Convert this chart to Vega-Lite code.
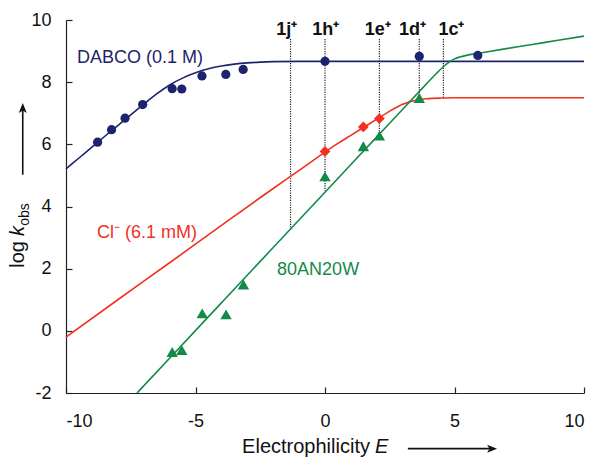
{
  "$schema": "https://vega.github.io/schema/vega-lite/v6.json",
  "width": 518,
  "height": 373,
  "padding": {"left": 66, "top": 20, "right": 13, "bottom": 65},
  "autosize": {"type": "none"},
  "background": "white",
  "config": {
    "view": {"stroke": null},
    "font": "Liberation Sans",
    "axis": {
      "labelFont": "Liberation Sans",
      "labelFontSize": 18,
      "labelColor": "#111111",
      "domainColor": "#222222",
      "domainWidth": 1.2,
      "tickColor": "#222222",
      "tickWidth": 1.2,
      "tickSize": -6,
      "grid": false,
      "title": null,
      "labelExpr": "toString(datum.value)"
    },
    "axisX": {"labelPadding": 25},
    "axisY": {"labelPadding": 21}
  },
  "datasets": {
    "curves": [
      {"s": "DABCO", "E": -10, "y": 5.21},
      {"s": "DABCO", "E": -9.5, "y": 5.56},
      {"s": "DABCO", "E": -9, "y": 5.91},
      {"s": "DABCO", "E": -8.5, "y": 6.26},
      {"s": "DABCO", "E": -8, "y": 6.6},
      {"s": "DABCO", "E": -7.5, "y": 6.95},
      {"s": "DABCO", "E": -7, "y": 7.29},
      {"s": "DABCO", "E": -6.5, "y": 7.62},
      {"s": "DABCO", "E": -6, "y": 7.91},
      {"s": "DABCO", "E": -5.5, "y": 8.13},
      {"s": "DABCO", "E": -5, "y": 8.3},
      {"s": "DABCO", "E": -4.5, "y": 8.43},
      {"s": "DABCO", "E": -4, "y": 8.52},
      {"s": "DABCO", "E": -3.5, "y": 8.58},
      {"s": "DABCO", "E": -3, "y": 8.62},
      {"s": "DABCO", "E": -2.5, "y": 8.645},
      {"s": "DABCO", "E": -2, "y": 8.66},
      {"s": "DABCO", "E": -1, "y": 8.67},
      {"s": "DABCO", "E": 0, "y": 8.67},
      {"s": "DABCO", "E": 10, "y": 8.67},
      {"s": "Cl", "E": -10, "y": -0.2},
      {"s": "Cl", "E": -8, "y": 1.0},
      {"s": "Cl", "E": -6, "y": 2.19},
      {"s": "Cl", "E": -4, "y": 3.39},
      {"s": "Cl", "E": -2, "y": 4.58},
      {"s": "Cl", "E": -1, "y": 5.16},
      {"s": "Cl", "E": 0, "y": 5.75},
      {"s": "Cl", "E": 0.5, "y": 6.03},
      {"s": "Cl", "E": 1, "y": 6.29},
      {"s": "Cl", "E": 1.5, "y": 6.55},
      {"s": "Cl", "E": 2, "y": 6.81},
      {"s": "Cl", "E": 2.5, "y": 7.07},
      {"s": "Cl", "E": 3, "y": 7.29},
      {"s": "Cl", "E": 3.5, "y": 7.42},
      {"s": "Cl", "E": 4, "y": 7.47},
      {"s": "Cl", "E": 4.5, "y": 7.49},
      {"s": "Cl", "E": 5, "y": 7.5},
      {"s": "Cl", "E": 10, "y": 7.5},
      {"s": "80AN20W", "E": -7.26, "y": -2.0},
      {"s": "80AN20W", "E": -6, "y": -0.88},
      {"s": "80AN20W", "E": -4, "y": 0.9},
      {"s": "80AN20W", "E": -2, "y": 2.68},
      {"s": "80AN20W", "E": 0, "y": 4.46},
      {"s": "80AN20W", "E": 2, "y": 6.24},
      {"s": "80AN20W", "E": 3, "y": 7.13},
      {"s": "80AN20W", "E": 3.64, "y": 7.7},
      {"s": "80AN20W", "E": 4, "y": 8.02},
      {"s": "80AN20W", "E": 4.3, "y": 8.28},
      {"s": "80AN20W", "E": 4.6, "y": 8.52},
      {"s": "80AN20W", "E": 4.83, "y": 8.67},
      {"s": "80AN20W", "E": 5, "y": 8.75},
      {"s": "80AN20W", "E": 5.2, "y": 8.81},
      {"s": "80AN20W", "E": 5.5, "y": 8.87},
      {"s": "80AN20W", "E": 6, "y": 8.94},
      {"s": "80AN20W", "E": 7, "y": 9.08},
      {"s": "80AN20W", "E": 8, "y": 9.21},
      {"s": "80AN20W", "E": 9, "y": 9.35},
      {"s": "80AN20W", "E": 10, "y": 9.48}
    ],
    "points": [
      {"s": "DABCO", "E": -8.78, "y": 6.07},
      {"s": "DABCO", "E": -8.24, "y": 6.47},
      {"s": "DABCO", "E": -7.72, "y": 6.84},
      {"s": "DABCO", "E": -7.04, "y": 7.28},
      {"s": "DABCO", "E": -5.9, "y": 7.79},
      {"s": "DABCO", "E": -5.53, "y": 7.78},
      {"s": "DABCO", "E": -4.75, "y": 8.2},
      {"s": "DABCO", "E": -3.83, "y": 8.25},
      {"s": "DABCO", "E": -3.16, "y": 8.41},
      {"s": "DABCO", "E": 0, "y": 8.67},
      {"s": "DABCO", "E": 3.64, "y": 8.83},
      {"s": "DABCO", "E": 5.9, "y": 8.86},
      {"s": "Cl", "E": 0, "y": 5.77},
      {"s": "Cl", "E": 1.48, "y": 6.56},
      {"s": "Cl", "E": 2.1, "y": 6.83},
      {"s": "80AN20W", "E": -5.9, "y": -0.68},
      {"s": "80AN20W", "E": -5.53, "y": -0.62},
      {"s": "80AN20W", "E": -4.74, "y": 0.56},
      {"s": "80AN20W", "E": -3.82, "y": 0.53},
      {"s": "80AN20W", "E": -3.15, "y": 1.49},
      {"s": "80AN20W", "E": 0, "y": 4.97},
      {"s": "80AN20W", "E": 1.48, "y": 5.94},
      {"s": "80AN20W", "E": 2.1, "y": 6.28},
      {"s": "80AN20W", "E": 3.64, "y": 7.49}
    ],
    "guides": [
      {"c": "1j", "E": -1.33, "top": 9.39, "bot": 3.25},
      {"c": "1h", "E": 0, "top": 9.39, "bot": 4.5},
      {"c": "1e", "E": 2.1, "top": 9.39, "bot": 6.32},
      {"c": "1d", "E": 3.64, "top": 9.39, "bot": 7.45},
      {"c": "1c", "E": 4.57, "top": 9.39, "bot": 7.47}
    ],
    "compounds": [
      {"t": "1j⁺", "E": -1.48, "y": 9.52},
      {"t": "1h⁺", "E": 0.03, "y": 9.52},
      {"t": "1e⁺", "E": 2.04, "y": 9.52},
      {"t": "1d⁺", "E": 3.38, "y": 9.52},
      {"t": "1c⁺", "E": 4.88, "y": 9.52}
    ],
    "serieslabels": [
      {"s": "DABCO", "t": "DABCO (0.1 M)", "E": -9.58, "y": 8.62},
      {"s": "Cl", "t": "Cl⁻ (6.1 mM)", "E": -8.8, "y": 2.99},
      {"s": "80AN20W", "t": "80AN20W", "E": -1.85, "y": 1.8}
    ],
    "arrows": [
      {"a": "x", "x1": 3.2, "x2": 6.45, "y1": -3.79, "y2": -3.79},
      {"a": "y", "x1": -11.67, "x2": -11.67, "y1": 5.02, "y2": 7.2}
    ]
  },
  "layer": [
    {
      "data": {"name": "guides"},
      "mark": {"type": "rule", "color": "#222222", "strokeWidth": 1.2, "strokeDash": [1.2, 1.2]},
      "encoding": {
        "x": {"field": "E", "type": "quantitative", "scale": {"domain": [-10, 10], "nice": false, "zero": false}, "axis": {"values": [-10, -5, 0, 5, 10]}},
        "y": {"field": "top", "type": "quantitative", "scale": {"domain": [-2, 10], "nice": false, "zero": false}, "axis": {"values": [-2, 0, 2, 4, 6, 8, 10]}},
        "y2": {"field": "bot"}
      }
    },
    {
      "data": {"name": "curves"},
      "mark": {"type": "line", "strokeWidth": 1.6, "interpolate": "monotone"},
      "encoding": {
        "x": {"field": "E", "type": "quantitative", "scale": {"domain": [-10, 10], "nice": false, "zero": false}},
        "y": {"field": "y", "type": "quantitative", "scale": {"domain": [-2, 10], "nice": false, "zero": false}},
        "color": {"field": "s", "type": "nominal", "scale": {"domain": ["DABCO", "Cl", "80AN20W"], "range": ["#1d246e", "#f2301f", "#138a48"]}, "legend": null}
      }
    },
    {
      "data": {"name": "points"},
      "transform": [{"filter": "datum.s === 'DABCO'"}],
      "mark": {"type": "point", "filled": true, "opacity": 1, "shape": "circle", "size": 85, "color": "#1d246e"},
      "encoding": {
        "x": {"field": "E", "type": "quantitative", "scale": {"domain": [-10, 10], "nice": false, "zero": false}},
        "y": {"field": "y", "type": "quantitative", "scale": {"domain": [-2, 10], "nice": false, "zero": false}}
      }
    },
    {
      "data": {"name": "points"},
      "transform": [{"filter": "datum.s === 'Cl'"}],
      "mark": {"type": "point", "filled": true, "opacity": 1, "shape": "diamond", "size": 115, "color": "#f2301f"},
      "encoding": {
        "x": {"field": "E", "type": "quantitative", "scale": {"domain": [-10, 10], "nice": false, "zero": false}},
        "y": {"field": "y", "type": "quantitative", "scale": {"domain": [-2, 10], "nice": false, "zero": false}}
      }
    },
    {
      "data": {"name": "points"},
      "transform": [{"filter": "datum.s === '80AN20W'"}],
      "mark": {"type": "point", "filled": true, "opacity": 1, "shape": "triangle-up", "size": 130, "color": "#138a48"},
      "encoding": {
        "x": {"field": "E", "type": "quantitative", "scale": {"domain": [-10, 10], "nice": false, "zero": false}},
        "y": {"field": "y", "type": "quantitative", "scale": {"domain": [-2, 10], "nice": false, "zero": false}}
      }
    },
    {
      "data": {"name": "serieslabels"},
      "mark": {"type": "text", "align": "left", "baseline": "alphabetic", "fontSize": 18, "font": "Liberation Sans"},
      "encoding": {
        "x": {"field": "E", "type": "quantitative", "scale": {"domain": [-10, 10], "nice": false, "zero": false}},
        "y": {"field": "y", "type": "quantitative", "scale": {"domain": [-2, 10], "nice": false, "zero": false}},
        "text": {"field": "t"},
        "color": {"field": "s", "type": "nominal", "scale": {"domain": ["DABCO", "Cl", "80AN20W"], "range": ["#1d246e", "#f2301f", "#138a48"]}, "legend": null}
      }
    },
    {
      "data": {"name": "compounds"},
      "mark": {"type": "text", "align": "center", "baseline": "alphabetic", "fontSize": 18, "fontWeight": "bold", "font": "Liberation Sans", "color": "#111111"},
      "encoding": {
        "x": {"field": "E", "type": "quantitative", "scale": {"domain": [-10, 10], "nice": false, "zero": false}},
        "y": {"field": "y", "type": "quantitative", "scale": {"domain": [-2, 10], "nice": false, "zero": false}},
        "text": {"field": "t"}
      }
    },
    {
      "data": {"values": [{"t": "Electrophilicity", "E": -3.2, "y": -3.92}]},
      "mark": {"type": "text", "align": "left", "baseline": "alphabetic", "fontSize": 20, "font": "Liberation Sans", "color": "#111111"},
      "encoding": {
        "x": {"field": "E", "type": "quantitative", "scale": {"domain": [-10, 10], "nice": false, "zero": false}},
        "y": {"field": "y", "type": "quantitative", "scale": {"domain": [-2, 10], "nice": false, "zero": false}},
        "text": {"field": "t"}
      }
    },
    {
      "data": {"values": [{"t": "E", "E": 1.93, "y": -3.92}]},
      "mark": {"type": "text", "align": "left", "baseline": "alphabetic", "fontSize": 20, "fontStyle": "italic", "font": "Liberation Sans", "color": "#111111"},
      "encoding": {
        "x": {"field": "E", "type": "quantitative", "scale": {"domain": [-10, 10], "nice": false, "zero": false}},
        "y": {"field": "y", "type": "quantitative", "scale": {"domain": [-2, 10], "nice": false, "zero": false}},
        "text": {"field": "t"}
      }
    },
    {
      "data": {"values": [{"t": "log", "E": -11.62, "y": 2.03}]},
      "mark": {"type": "text", "align": "left", "baseline": "alphabetic", "angle": 270, "fontSize": 20, "font": "Liberation Sans", "color": "#111111"},
      "encoding": {
        "x": {"field": "E", "type": "quantitative", "scale": {"domain": [-10, 10], "nice": false, "zero": false}},
        "y": {"field": "y", "type": "quantitative", "scale": {"domain": [-2, 10], "nice": false, "zero": false}},
        "text": {"field": "t"}
      }
    },
    {
      "data": {"values": [{"t": "k", "E": -11.62, "y": 3.05}]},
      "mark": {"type": "text", "align": "left", "baseline": "alphabetic", "angle": 270, "fontSize": 20, "fontStyle": "italic", "font": "Liberation Sans", "color": "#111111"},
      "encoding": {
        "x": {"field": "E", "type": "quantitative", "scale": {"domain": [-10, 10], "nice": false, "zero": false}},
        "y": {"field": "y", "type": "quantitative", "scale": {"domain": [-2, 10], "nice": false, "zero": false}},
        "text": {"field": "t"}
      }
    },
    {
      "data": {"values": [{"t": "obs", "E": -11.43, "y": 3.38}]},
      "mark": {"type": "text", "align": "left", "baseline": "alphabetic", "angle": 270, "fontSize": 14, "font": "Liberation Sans", "color": "#111111"},
      "encoding": {
        "x": {"field": "E", "type": "quantitative", "scale": {"domain": [-10, 10], "nice": false, "zero": false}},
        "y": {"field": "y", "type": "quantitative", "scale": {"domain": [-2, 10], "nice": false, "zero": false}},
        "text": {"field": "t"}
      }
    },
    {
      "data": {"name": "arrows"},
      "mark": {"type": "rule", "color": "#111111", "strokeWidth": 1.6},
      "encoding": {
        "x": {"field": "x1", "type": "quantitative", "scale": {"domain": [-10, 10], "nice": false, "zero": false}},
        "x2": {"field": "x2"},
        "y": {"field": "y1", "type": "quantitative", "scale": {"domain": [-2, 10], "nice": false, "zero": false}},
        "y2": {"field": "y2"}
      }
    },
    {
      "data": {"values": [{"E": 6.45, "y": -3.79}]},
      "mark": {"type": "point", "filled": true, "opacity": 1, "color": "#111111", "size": 100, "shape": "M1,0L-1,-0.8L-0.5,0L-1,0.8Z"},
      "encoding": {
        "x": {"field": "E", "type": "quantitative", "scale": {"domain": [-10, 10], "nice": false, "zero": false}},
        "y": {"field": "y", "type": "quantitative", "scale": {"domain": [-2, 10], "nice": false, "zero": false}}
      }
    },
    {
      "data": {"values": [{"E": -11.67, "y": 7.17}]},
      "mark": {"type": "point", "filled": true, "opacity": 1, "color": "#111111", "size": 100, "shape": "M0,-1L-0.8,1L0,0.5L0.8,1Z"},
      "encoding": {
        "x": {"field": "E", "type": "quantitative", "scale": {"domain": [-10, 10], "nice": false, "zero": false}},
        "y": {"field": "y", "type": "quantitative", "scale": {"domain": [-2, 10], "nice": false, "zero": false}}
      }
    }
  ]
}
